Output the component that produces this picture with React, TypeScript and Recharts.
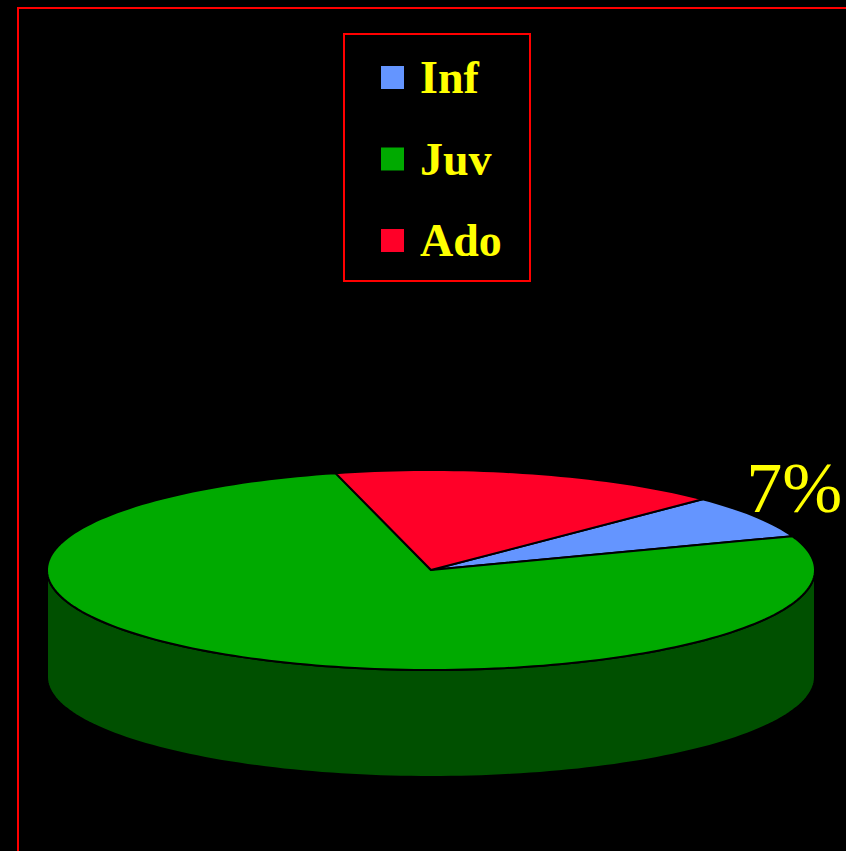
import React from 'react';
import { PieChart, Pie, Cell, Legend } from 'recharts';

// Age groups and their shares (percent)
const categories = ['Inf', 'Juv', 'Ado'];
const shares = [7, 76.5, 16.5];

// Face colours of the top and the darker rim of each slice
const topColors = ['#6495FF', '#00AA00', '#FF0028'];
const sideColors = ['#34508C', '#005000', '#8C0016'];

const data = categories.map((name, i) => ({ name, value: shares[i] }));

const W = 846;
const H = 851;
const CX = 431;
const CY = 570;
const RX = 384;
const RY = 100;
const DEPTH = 107;
const TILT = RY / RX;
const RAD = Math.PI / 180;

const point = (cx: number, cy: number, r: number, deg: number, dy = 0) => [
  cx + r * Math.cos(deg * RAD),
  cy - r * TILT * Math.sin(deg * RAD) + dy,
];

const arc = (cx: number, cy: number, r: number, a0: number, a1: number, dy = 0) => {
  const steps = Math.max(2, Math.ceil(Math.abs(a1 - a0) / 1.5));
  const pts: number[][] = [];
  for (let s = 0; s <= steps; s++) {
    pts.push(point(cx, cy, r, a0 + ((a1 - a0) * s) / steps, dy));
  }
  return pts;
};

const toPath = (pts: number[][]) => pts.map((p) => `${p[0].toFixed(2)},${p[1].toFixed(2)}`).join(' L ');

// Slice of a tilted pie: rim (front half only) under an elliptical top face
const TiltedSlice = (props: any) => {
  const { cx, cy, outerRadius, startAngle, endAngle } = props;
  const name = props.name ?? props.payload?.name;
  const idx = Math.max(0, categories.indexOf(name));
  const lo = Math.min(startAngle, endAngle);
  const hi = Math.max(startAngle, endAngle);

  const rims: React.ReactNode[] = [];
  for (let k = -2; k <= 1; k++) {
    const f0 = Math.max(lo, 180 + 360 * k);
    const f1 = Math.min(hi, 360 + 360 * k);
    if (f1 > f0) {
      const upper = arc(cx, cy, outerRadius, f0, f1);
      const lower = arc(cx, cy, outerRadius, f1, f0, DEPTH);
      rims.push(
        <path
          key={`rim-${k}`}
          d={`M ${toPath(upper.concat(lower))} Z`}
          fill={sideColors[idx]}
          stroke="#000"
          strokeWidth={2}
          strokeLinejoin="round"
        />
      );
    }
  }

  const top = arc(cx, cy, outerRadius, startAngle, endAngle);
  return (
    <g>
      {rims}
      <path
        d={`M ${cx},${cy} L ${toPath(top)} Z`}
        fill={topColors[idx]}
        stroke="#000"
        strokeWidth={2}
        strokeLinejoin="round"
      />
    </g>
  );
};

// Only the smallest slice carries a percentage label
const renderLabel = (props: any) => {
  const { cx, cy, outerRadius, midAngle, percent, index } = props;
  if (index !== 0) return null;
  const [x, y] = point(cx, cy, outerRadius, midAngle);
  return (
    <text
      x={x - 9}
      y={y - 4}
      textAnchor="start"
      fill="#FFFF00"
      fontFamily="'Liberation Serif', 'Times New Roman', serif"
      fontSize={72}
    >
      {`${Math.round(percent * 100)}%`}
    </text>
  );
};

const LegendBox = (props: any) => {
  const payload = [...(props.payload || [])].sort(
    (a: any, b: any) => categories.indexOf(a.value) - categories.indexOf(b.value)
  );
  return (
    <svg width={188} height={249} style={{ display: 'block' }}>
      <rect x={1} y={1} width={186} height={247} fill="#000" stroke="#FF0000" strokeWidth={2} />
      {payload.map((entry: any, i: number) => (
        <g key={entry.value}>
          <rect x={38} y={33 + i * 81.5} width={23} height={23} fill={entry.color} />
          <text
            x={77}
            y={60 + i * 81.5}
            fill="#FFFF00"
            fontFamily="'Liberation Serif', 'Times New Roman', serif"
            fontWeight="bold"
            fontSize={46}
          >
            {entry.value}
          </text>
        </g>
      ))}
    </svg>
  );
};

export default function App() {
  return (
    <div
      style={{
        position: 'absolute',
        left: 0,
        top: 0,
        width: W,
        height: H,
        overflow: 'hidden',
        background: '#000',
      }}
    >
      <div
        style={{
          position: 'absolute',
          left: 17,
          top: 7,
          width: 900,
          height: 900,
          border: '2px solid #FF0000',
        }}
      />
      <div style={{ position: 'absolute', left: 0, top: 0 }}>
        <PieChart width={W} height={H} margin={{ top: 0, right: 0, bottom: 0, left: 0 }}>
          <Pie
            data={data}
            dataKey="value"
            nameKey="name"
            cx={CX}
            cy={CY}
            outerRadius={RX}
            startAngle={45}
            endAngle={-315}
            stroke="none"
            isAnimationActive={false}
            shape={TiltedSlice}
            activeShape={TiltedSlice}
            inactiveShape={TiltedSlice}
            label={renderLabel}
            labelLine={false}
          >
            {data.map((d, i) => (
              <Cell key={d.name} fill={topColors[i]} />
            ))}
          </Pie>
          <Legend
            layout="vertical"
            align="center"
            verticalAlign="middle"
            itemSorter={null}
            content={LegendBox}
            wrapperStyle={{ position: 'absolute', left: 343, top: 33, width: 188, height: 249 }}
          />
        </PieChart>
      </div>
    </div>
  );
}
